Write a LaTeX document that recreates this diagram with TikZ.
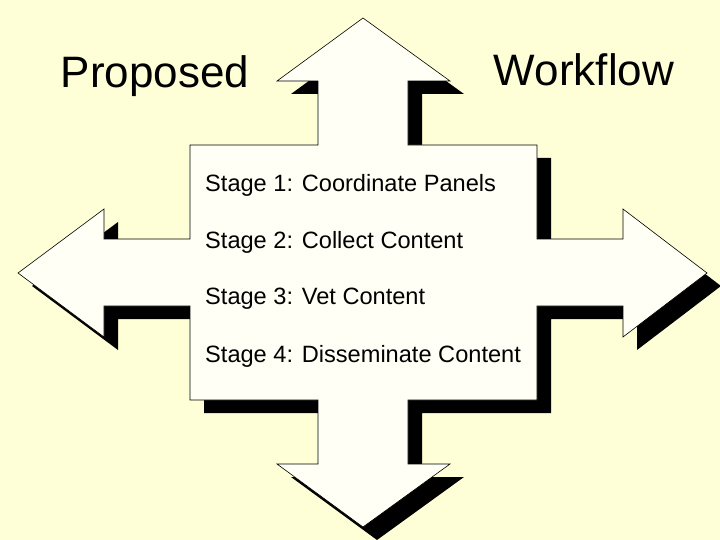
\documentclass[tikz,border=0pt]{standalone}
\usepackage{fontspec}
\setmainfont{Liberation Sans}
\begin{document}
\begin{tikzpicture}[x=1pt,y=-1pt,
  lbl/.style={anchor=west, font=\fontsize{23.6}{26}\selectfont, inner sep=0pt},
  ttl/.style={font=\fontsize{44}{48}\selectfont, inner sep=0pt}]
\definecolor{bg}{HTML}{FFFFD7}
\definecolor{sf}{HTML}{FFFFF6}
\fill[bg] (0,0) rectangle (720,540);
\useasboundingbox (0,0) rectangle (720,540);
\def\outline{(363,18) -- (450,81) -- (408,81) -- (408,145) -- (537,145) -- (537,239) -- (623,239) -- (623,209) -- (707,273) -- (623,337) -- (623,306) -- (537,306) -- (537,400) -- (408,400) -- (408,464) -- (450,464) -- (363,527) -- (277,464) -- (318,464) -- (318,400) -- (190,400) -- (190,306) -- (104,306) -- (104,337) -- (18,273) -- (104,209) -- (104,239) -- (190,239) -- (190,145) -- (318,145) -- (318,81) -- (277,81) -- cycle}
\fill[black, shift={(14,13)}] \outline;
\filldraw[fill=sf, draw=black, line width=0.6pt] \outline;
\node[ttl] (p) at (155,76) {Proposed};
\node[ttl] (w) at (584,70) {Workflow};
\node[lbl] (s1) at (205,185) {Stage 1: Coordinate Panels};
\node[lbl] (s2) at (205,242) {Stage 2: Collect Content};
\node[lbl] (s3) at (205,299) {Stage 3: Vet Content};
\node[lbl] (s4) at (205,356) {Stage 4: Disseminate Content};
\end{tikzpicture}
\end{document}
